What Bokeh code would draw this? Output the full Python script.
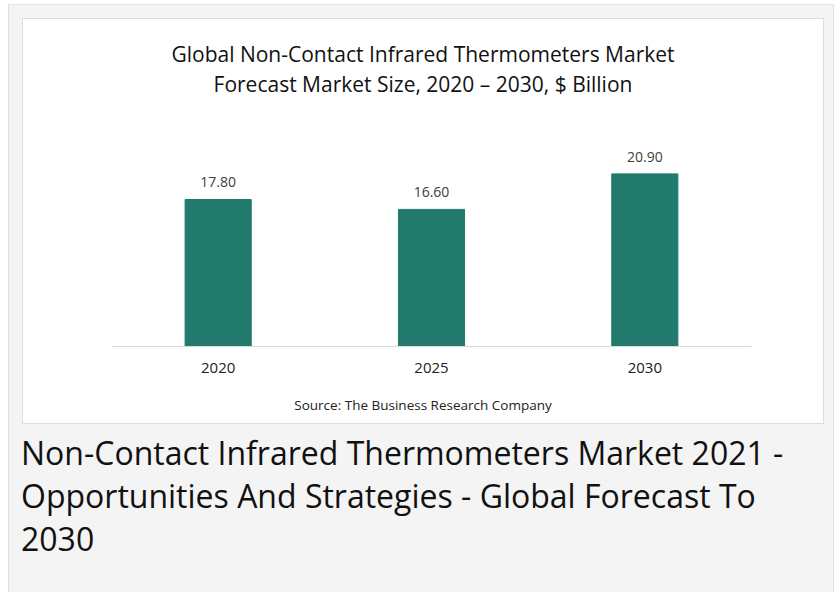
from bokeh.plotting import figure
from bokeh.models import ColumnDataSource, Div
from bokeh.layouts import column
from bokeh.embed import file_html
from bokeh.resources import INLINE
from bokeh.core.properties import value

years = ["2020", "2025", "2030"]
sizes = [17.80, 16.60, 20.90]
labels = ["17.80", "16.60", "20.90"]

chart_title = "Global Non-Contact Infrared Thermometers Market<br>Forecast Market Size, 2020 – 2030, $ Billion"
source_note = "Source: The Business Research Company"
caption = "Non-Contact Infrared Thermometers Market 2021 - Opportunities And Strategies - Global Forecast To 2030"

src = ColumnDataSource(dict(x=years, top=sizes, lab=labels))

title_div = Div(text=chart_title, width=800, height=60, margin=(20, 0, 0, 0),
                styles={"font-family": "Open Sans", "font-size": "21px", "line-height": "30px",
                        "color": "#111111", "text-align": "center", "width": "800px"})

p = figure(x_range=years, y_range=(0, 24.7), width=800, height=295,
           output_backend="svg", toolbar_location=None,
           min_border_left=88, min_border_right=72, min_border_top=43, min_border_bottom=48)
p.background_fill_color = "white"
p.border_fill_color = "white"
p.outline_line_color = None
p.margin = (0, 0, 0, 0)

p.vbar(x="x", top="top", width=0.31, source=src, color="#217a6b")
p.text(x="x", y="top", text="lab", source=src, text_align="center", text_baseline="bottom",
       y_offset=-12, text_font=value("Open Sans"), text_font_size="14px", text_color="#404040")

p.yaxis.visible = False
p.xgrid.visible = False
p.ygrid.visible = False
p.xaxis.axis_line_color = "#d9d9d9"
p.xaxis.major_tick_line_color = None
p.xaxis.minor_tick_line_color = None
p.xaxis.major_label_text_font = "Open Sans"
p.xaxis.major_label_text_font_size = "15px"
p.xaxis.major_label_text_color = "#222222"
p.xaxis.major_label_standoff = 10

source_div = Div(text=source_note, width=800, height=29, margin=(0, 0, 0, 0),
                 styles={"font-family": "Open Sans", "font-size": "13.5px", "line-height": "22px",
                         "color": "#222222", "text-align": "center", "width": "800px"})

panel = column(title_div, p, source_div, width=800, height=404, margin=(14, 0, 0, 14),
               styles={"background-color": "white", "outline": "1px solid #dddddd"})

div = Div(text=caption, width=800, height=129, margin=(8, 0, 0, 12),
          styles={"font-family": "Open Sans", "font-size": "32px", "line-height": "43px",
                  "color": "#111111", "width": "800px"})

layout = column(panel, div, width=826, height=588, margin=(4, 0, 0, 8),
                styles={"background-color": "#f4f4f4", "border-left": "1px solid #dddddd",
                        "border-top": "1px solid #e4e4e4", "border-right": "1px solid #e4e4e4"})

open("out.html", "w").write(file_html(layout, INLINE))
